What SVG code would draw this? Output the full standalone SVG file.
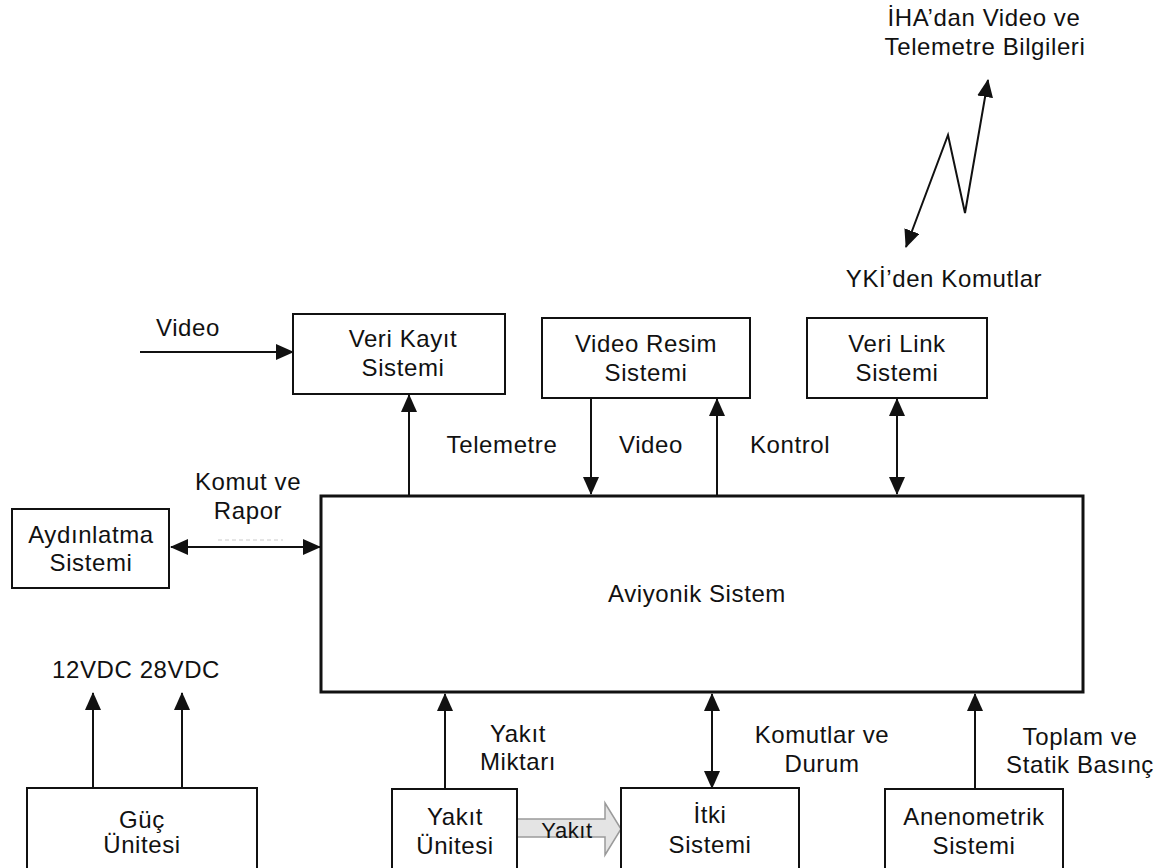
<svg xmlns="http://www.w3.org/2000/svg" width="1163" height="868" viewBox="0 0 1163 868">
<style>
text{font-family:"Liberation Sans",Arial,sans-serif;font-size:24px;fill:#111;text-anchor:middle;letter-spacing:0.6px}
.box{fill:#fff;stroke:#111;stroke-width:2}
.main{fill:#fff;stroke:#111;stroke-width:3}
.ln{fill:none;stroke:#111;stroke-width:2}
</style>
<defs>
<marker id="ah" markerUnits="userSpaceOnUse" markerWidth="18" markerHeight="16" refX="17" refY="8" orient="auto-start-reverse" viewBox="0 0 18 16">
<path d="M0,0 L18,8 L0,16 z" fill="#111"/>
</marker>
</defs>
<rect width="1163" height="868" fill="#fff"/>

<g id="connectors">
<line class="ln" x1="140" y1="352" x2="293" y2="352" marker-end="url(#ah)"/>
<line class="ln" x1="409" y1="495" x2="409" y2="395" marker-end="url(#ah)"/>
<line class="ln" x1="591" y1="398" x2="591" y2="494" marker-end="url(#ah)"/>
<line class="ln" x1="717" y1="495" x2="717" y2="399" marker-end="url(#ah)"/>
<line class="ln" x1="897" y1="399" x2="897" y2="494" marker-start="url(#ah)" marker-end="url(#ah)"/>
<line class="ln" x1="171" y1="547" x2="320" y2="547" marker-start="url(#ah)" marker-end="url(#ah)"/>
<line x1="218" y1="540" x2="283" y2="540" stroke="#ddd" stroke-width="1.5" stroke-dasharray="4 3"/>
<polyline class="ln" points="906,247 948,135 965,213 988,80" marker-start="url(#ah)" marker-end="url(#ah)"/>
<line class="ln" x1="93" y1="788" x2="93" y2="693" marker-end="url(#ah)"/>
<line class="ln" x1="182" y1="788" x2="182" y2="693" marker-end="url(#ah)"/>
<line class="ln" x1="445" y1="789" x2="445" y2="694" marker-end="url(#ah)"/>
<line class="ln" x1="712" y1="694" x2="712" y2="788" marker-start="url(#ah)" marker-end="url(#ah)"/>
<line class="ln" x1="975" y1="789" x2="975" y2="694" marker-end="url(#ah)"/>
<polygon points="517,819 605,819 605,803 621,829 605,855 605,837 517,837" fill="#e4e4e4" stroke="#9a9a9a" stroke-width="1.5"/>
</g>

<g id="labels">
<text x="984" y="26">İHA’dan Video ve</text>
<text x="985" y="55">Telemetre Bilgileri</text>
<text x="944" y="287">YKİ’den Komutlar</text>
<text x="188" y="336">Video</text>
<text x="502" y="453">Telemetre</text>
<text x="651" y="453">Video</text>
<text x="790" y="453">Kontrol</text>
<text x="248" y="490">Komut ve</text>
<text x="248" y="519">Rapor</text>
<text x="52" y="678" style="text-anchor:start">12VDC 28VDC</text>
<text x="518" y="742">Yakıt</text>
<text x="518" y="770">Miktarı</text>
<text x="822" y="743">Komutlar ve</text>
<text x="822" y="772">Durum</text>
<text x="1080" y="745">Toplam ve</text>
<text x="1080" y="773">Statik Basınç</text>
<text x="567" y="838" style="font-size:22px">Yakıt</text>
</g>

<g id="veri-kayit">
<rect class="box" x="293" y="314" width="212" height="80"/>
<text x="403" y="347">Veri Kayıt</text>
<text x="403" y="376">Sistemi</text>
</g>
<g id="video-resim">
<rect class="box" x="542" y="318" width="208" height="80"/>
<text x="646" y="352">Video Resim</text>
<text x="646" y="381">Sistemi</text>
</g>
<g id="veri-link">
<rect class="box" x="807" y="318" width="180" height="80"/>
<text x="897" y="352">Veri Link</text>
<text x="897" y="381">Sistemi</text>
</g>
<g id="aydinlatma">
<rect class="box" x="12" y="509" width="157" height="79"/>
<text x="91" y="543">Aydınlatma</text>
<text x="91" y="571">Sistemi</text>
</g>
<g id="aviyonik">
<rect class="main" x="321" y="496" width="762" height="196"/>
<text x="697" y="602">Aviyonik Sistem</text>
</g>
<g id="guc">
<rect class="box" x="27" y="788" width="230" height="90"/>
<text x="142" y="828">Güç</text>
<text x="142" y="853">Ünitesi</text>
</g>
<g id="yakit">
<rect class="box" x="392" y="789" width="125" height="90"/>
<text x="455" y="825">Yakıt</text>
<text x="455" y="854">Ünitesi</text>
</g>
<g id="itki">
<rect class="box" x="621" y="788" width="178" height="90"/>
<text x="710" y="823">İtki</text>
<text x="710" y="853">Sistemi</text>
</g>
<g id="anenometrik">
<rect class="box" x="885" y="789" width="178" height="90"/>
<text x="974" y="825">Anenometrik</text>
<text x="974" y="854">Sistemi</text>
</g>
</svg>
